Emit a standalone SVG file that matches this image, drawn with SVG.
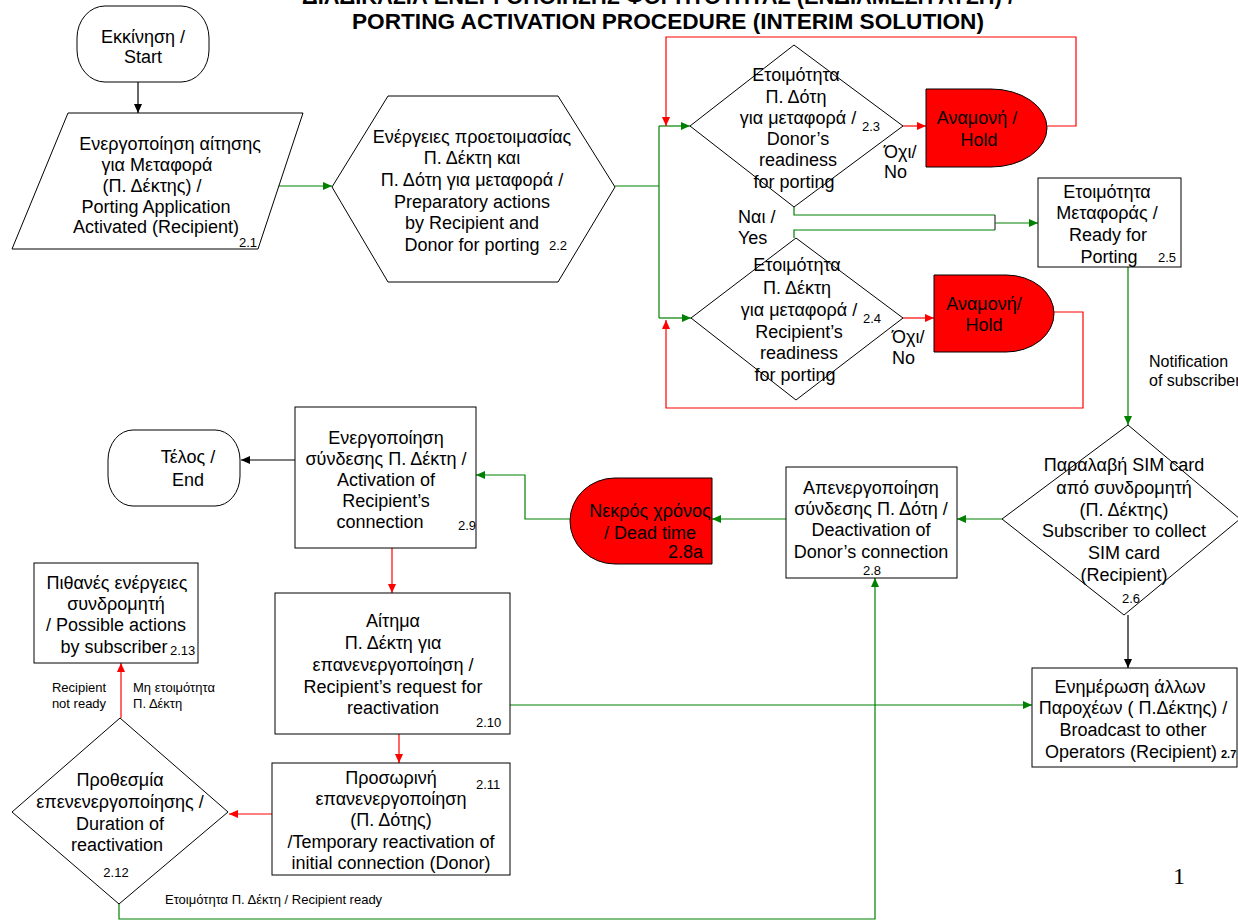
<svg xmlns="http://www.w3.org/2000/svg" width="1238" height="921" viewBox="0 0 1238 921">
<style>
text{font-family:"Liberation Sans",Arial,sans-serif;fill:#000}
.t{font-size:18px;text-anchor:middle}
.tl{font-size:18px}
.s{font-size:13px}
.box{fill:#fff;stroke:#000;stroke-width:1}
.hold{fill:#ff0000;stroke:#000;stroke-width:1}
.g{fill:none;stroke:#008000;stroke-width:1.2}
.r{fill:none;stroke:#ff0000;stroke-width:1.2}
.k{fill:none;stroke:#000;stroke-width:1.2}
.ttl{font-size:22px;font-weight:bold;text-anchor:middle}
</style>
<defs>
<marker id="ag" markerWidth="10" markerHeight="8" refX="9" refY="4" orient="auto" markerUnits="userSpaceOnUse"><path d="M0,0 L9,4 L0,8 Z" fill="#008000"/></marker>
<marker id="ar" markerWidth="10" markerHeight="8" refX="9" refY="4" orient="auto" markerUnits="userSpaceOnUse"><path d="M0,0 L9,4 L0,8 Z" fill="#ff0000"/></marker>
<marker id="ak" markerWidth="10" markerHeight="8" refX="9" refY="4" orient="auto" markerUnits="userSpaceOnUse"><path d="M0,0 L9,4 L0,8 Z" fill="#000"/></marker>
</defs>

<g id="title">
<text class="ttl" x="658" y="4" textLength="712" lengthAdjust="spacingAndGlyphs">ΔΙΑΔΙΚΑΣΙΑ ΕΝΕΡΓΟΠΟΙΗΣΗΣ ΦΟΡΗΤΟΤΗΤΑΣ (ΕΝΔΙΑΜΕΣΗ ΛΥΣΗ) /</text>
<text class="ttl" x="668" y="29" textLength="632" lengthAdjust="spacingAndGlyphs">PORTING ACTIVATION  PROCEDURE (INTERIM SOLUTION)</text>
</g>

<g id="connectors">
<line class="k" x1="138" y1="82" x2="138" y2="113" marker-end="url(#ak)"/>
<line class="g" x1="273" y1="186" x2="332" y2="186" marker-end="url(#ag)"/>
<line class="g" x1="615" y1="186" x2="659" y2="186"/>
<line class="g" x1="659" y1="126" x2="659" y2="318"/>
<line class="g" x1="659" y1="126" x2="690" y2="126" marker-end="url(#ag)"/>
<line class="g" x1="659" y1="318" x2="691" y2="318" marker-end="url(#ag)"/>
<line class="r" x1="903" y1="126" x2="926" y2="126" marker-end="url(#ar)"/>
<polyline class="r" points="1047,126 1076,126 1076,37 666,37 666,126" marker-end="url(#ar)"/>
<line class="r" x1="903" y1="318" x2="934" y2="318" marker-end="url(#ar)"/>
<polyline class="r" points="1054,312 1083,312 1083,408 666,408 666,320" marker-end="url(#ar)"/>
<polyline class="g" points="794,207 794,215 995,215"/>
<polyline class="g" points="794,238 794,230 995,230"/>
<line x1="995" y1="215" x2="995" y2="230" stroke="#333" stroke-width="1.2"/>
<line class="g" x1="995" y1="223" x2="1038" y2="223" marker-end="url(#ag)"/>
<line class="g" x1="1128" y1="267" x2="1128" y2="425" marker-end="url(#ag)"/>
<line class="g" x1="1002" y1="519" x2="957" y2="519" marker-end="url(#ag)"/>
<line class="k" x1="1128" y1="615" x2="1128" y2="668" marker-end="url(#ak)"/>
<line class="g" x1="786" y1="519" x2="712" y2="519" marker-end="url(#ag)"/>
<polyline class="g" points="570,519 525,519 525,475 476,475" marker-end="url(#ag)"/>
<line class="k" x1="295" y1="460" x2="241" y2="460" marker-end="url(#ak)"/>
<line class="r" x1="392" y1="548" x2="392" y2="593" marker-end="url(#ar)"/>
<line class="g" x1="510" y1="705" x2="1032" y2="705" marker-end="url(#ag)"/>
<line class="r" x1="399" y1="734" x2="399" y2="763" marker-end="url(#ar)"/>
<line class="r" x1="272" y1="814" x2="229" y2="814" marker-end="url(#ar)"/>
<line class="r" x1="121" y1="718" x2="121" y2="663" marker-end="url(#ar)"/>
<polyline class="g" points="119,904 119,919 875,919 875,578" marker-end="url(#ag)"/>
</g>

<g id="labels">
<text class="tl" x="884" y="158">Όχι/</text>
<text class="tl" x="884" y="178">No</text>
<text class="tl" x="892" y="343">Όχι/</text>
<text class="tl" x="892" y="364">No</text>
<text class="tl" x="738" y="223">Ναι /</text>
<text class="tl" x="738" y="244">Yes</text>
<text x="1149" y="367" font-size="16">Notification</text>
<text x="1149" y="386" font-size="16">of subscriber</text>
<text class="s" x="79" y="692" text-anchor="middle">Recipient</text>
<text class="s" x="79" y="708" text-anchor="middle">not ready</text>
<text class="s" x="133" y="692">Μη ετοιμότητα</text>
<text class="s" x="133" y="708">Π. Δέκτη</text>
<text class="s" x="165" y="904">Ετοιμότητα Π. Δέκτη / Recipient ready</text>
<text x="1173" y="884" font-size="24" style="font-family:'Liberation Serif',serif">1</text>
</g>

<g id="start">
<rect class="box" x="77" y="6" width="132" height="76" rx="28" ry="32"/>
<text class="t" x="143" y="43">Εκκίνηση /</text>
<text class="t" x="143" y="63">Start</text>
</g>

<g id="n2_1">
<polygon class="box" points="68,113 303,113 258,249 12,249"/>
<text class="t" x="170" y="150">Ενεργοποίηση αίτησης</text>
<text class="t" x="157" y="171">για Μεταφορά</text>
<text class="t" x="152" y="192">(Π. Δέκτης) /</text>
<text class="t" x="156" y="213">Porting Application</text>
<text class="t" x="156" y="233">Activated (Recipient)</text>
<text class="s" x="239" y="247">2.1</text>
</g>

<g id="n2_2">
<polygon class="box" points="332,187 388,96 558,96 615,187 558,282 388,282"/>
<text class="t" x="472" y="143">Ενέργειες προετοιμασίας</text>
<text class="t" x="472" y="164">Π. Δέκτη και</text>
<text class="t" x="472" y="186">Π. Δότη για μεταφορά /</text>
<text class="t" x="472" y="208">Preparatory actions</text>
<text class="t" x="472" y="229">by Recipient and</text>
<text class="t" x="472" y="251">Donor for porting</text>
<text class="s" x="549" y="250">2.2</text>
</g>

<g id="n2_3">
<polygon class="box" points="794,45 903,126 794,207 690,126"/>
<text class="t" x="796" y="81">Ετοιμότητα</text>
<text class="t" x="796" y="103">Π. Δότη</text>
<text class="t" x="798" y="124">για μεταφορά /</text>
<text class="t" x="798" y="145">Donor’s</text>
<text class="t" x="798" y="166">readiness</text>
<text class="t" x="794" y="188">for porting</text>
<text class="s" x="862" y="131">2.3</text>
</g>

<g id="hold1">
<path class="hold" d="M926,89 H991 A56,39 0 0 1 991,167 H926 Z"/>
<text class="t" x="977" y="124">Αναμονή /</text>
<text class="t" x="979" y="146">Hold</text>
</g>

<g id="n2_4">
<polygon class="box" points="796,238 903,318 796,400 691,318"/>
<text class="t" x="797" y="271">Ετοιμότητα</text>
<text class="t" x="797" y="294">Π. Δέκτη</text>
<text class="t" x="799" y="316">για μεταφορά /</text>
<text class="t" x="799" y="338">Recipient’s</text>
<text class="t" x="799" y="359">readiness</text>
<text class="t" x="795" y="381">for porting</text>
<text class="s" x="863" y="323">2.4</text>
</g>

<g id="hold2">
<path class="hold" d="M934,275 H1006 A48,38.5 0 0 1 1006,352 H934 Z"/>
<text class="t" x="984" y="310">Αναμονή/</text>
<text class="t" x="984" y="331">Hold</text>
</g>

<g id="n2_5">
<rect class="box" x="1038" y="178" width="143" height="89"/>
<text class="t" x="1107" y="198">Ετοιμότητα</text>
<text class="t" x="1107" y="219">Μεταφοράς /</text>
<text class="t" x="1108" y="241">Ready for</text>
<text class="t" x="1109" y="263">Porting</text>
<text class="s" x="1158" y="262">2.5</text>
</g>

<g id="n2_6">
<polygon class="box" points="1128,425 1240,519 1124,615 1002,519"/>
<text class="t" x="1124" y="471">Παραλαβή SIM card</text>
<text class="t" x="1124" y="494">από συνδρομητή</text>
<text class="t" x="1124" y="516">(Π. Δέκτης)</text>
<text class="t" x="1124" y="537">Subscriber το collect</text>
<text class="t" x="1124" y="559">SIM card</text>
<text class="t" x="1124" y="581">(Recipient)</text>
<text class="s" x="1131" y="603" text-anchor="middle">2.6</text>
</g>

<g id="n2_7">
<rect class="box" x="1032" y="668" width="205" height="99"/>
<text class="t" x="1130" y="693">Ενημέρωση άλλων</text>
<text class="t" x="1133" y="714">Παροχέων ( Π.Δέκτης) /</text>
<text class="t" x="1133" y="736">Broadcast to other</text>
<text class="t" x="1131" y="758">Operators (Recipient)</text>
<text x="1221" y="758" font-size="11" font-weight="bold">2.7</text>
</g>

<g id="n2_8">
<rect class="box" x="786" y="467" width="171" height="111"/>
<text class="t" x="871" y="494">Απενεργοποίηση</text>
<text class="t" x="871" y="515">σύνδεσης  Π. Δότη /</text>
<text class="t" x="871" y="536">Deactivation of</text>
<text class="t" x="871" y="558">Donor’s connection</text>
<text class="s" x="872" y="575" text-anchor="middle">2.8</text>
</g>

<g id="n2_8a">
<path class="hold" d="M712,478 H615 A45,43 0 0 0 615,564 H712 Z"/>
<text class="t" x="650" y="517">Νεκρός χρόνος</text>
<text class="t" x="650" y="539">/ Dead time</text>
<text class="tl" x="703" y="558" text-anchor="end">2.8a</text>
</g>

<g id="n2_9">
<rect class="box" x="295" y="407" width="181" height="141"/>
<text class="t" x="386" y="444">Ενεργοποίηση</text>
<text class="t" x="386" y="465">σύνδεσης Π. Δέκτη /</text>
<text class="t" x="386" y="486">Activation of</text>
<text class="t" x="386" y="507">Recipient’s</text>
<text class="t" x="380" y="528">connection</text>
<text class="s" x="458" y="530">2.9</text>
</g>

<g id="end">
<rect class="box" x="108" y="430" width="132" height="76" rx="25" ry="30"/>
<text class="t" x="188" y="463">Τέλος /</text>
<text class="t" x="188" y="486">End</text>
</g>

<g id="n2_10">
<rect class="box" x="275" y="593" width="235" height="141"/>
<text class="t" x="393" y="627">Αίτημα</text>
<text class="t" x="393" y="649">Π. Δέκτη για</text>
<text class="t" x="393" y="671">επανενεργοποίηση /</text>
<text class="t" x="393" y="693">Recipient’s request for</text>
<text class="t" x="393" y="714">reactivation</text>
<text class="s" x="476" y="727">2.10</text>
</g>

<g id="n2_11">
<rect class="box" x="272" y="763" width="238" height="112"/>
<text class="t" x="391" y="784">Προσωρινή</text>
<text class="t" x="391" y="805">επανενεργοποίηση</text>
<text class="t" x="391" y="826">(Π. Δότης)</text>
<text class="t" x="391" y="848">/Temporary reactivation of</text>
<text class="t" x="391" y="869">initial connection (Donor)</text>
<text class="s" x="476" y="789">2.11</text>
</g>

<g id="n2_12">
<polygon class="box" points="120,718 228,812 119,904 12,812"/>
<text class="t" x="120" y="786">Προθεσμία</text>
<text class="t" x="120" y="808">επενενεργοποίησης /</text>
<text class="t" x="120" y="830">Duration of</text>
<text class="t" x="117" y="851">reactivation</text>
<text class="s" x="116" y="877" text-anchor="middle">2.12</text>
</g>

<g id="n2_13">
<rect class="box" x="34" y="563" width="164" height="100"/>
<text class="t" x="117" y="589">Πιθανές ενέργειες</text>
<text class="t" x="116" y="610">συνδρομητή</text>
<text class="t" x="116" y="631">/ Possible actions</text>
<text class="t" x="114" y="653">by subscriber</text>
<text class="s" x="170" y="655">2.13</text>
</g>
</svg>
